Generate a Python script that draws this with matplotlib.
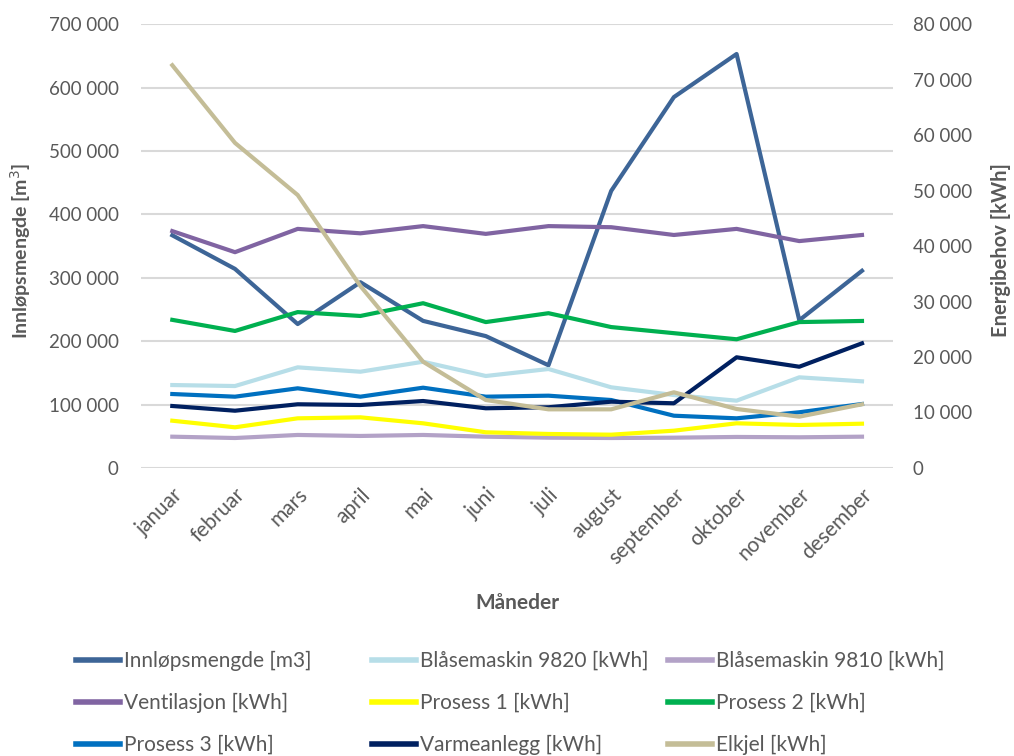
import matplotlib.pyplot as plt
from matplotlib.ticker import FuncFormatter, MultipleLocator

plt.rcParams['font.family'] = ['Lato', 'DejaVu Sans']

months = ['januar', 'februar', 'mars', 'april', 'mai', 'juni', 'juli',
          'august', 'september', 'oktober', 'november', 'desember']

# left axis [m3]
innlop = [367000, 314000, 227000, 293000, 232000, 208000, 162000,
          437000, 585000, 653000, 233000, 311000]

# right axis [kWh]
blase9820 = [14950, 14770, 18140, 17350, 19150, 16580, 17840,
             14540, 13150, 12130, 16340, 15620]
blase9810 = [5640, 5400, 5950, 5770, 5950, 5640, 5460,
             5400, 5460, 5590, 5530, 5640]
ventilasjon = [42700, 38900, 43100, 42300, 43600, 42200, 43600,
               43400, 42000, 43100, 40900, 42000]
prosess1 = [8520, 7330, 8950, 9130, 8050, 6430, 6130,
            6000, 6720, 8050, 7750, 7980]
prosess2 = [26700, 24700, 28100, 27400, 29700, 26300, 27900,
            25400, 24300, 23200, 26300, 26500]
prosess3 = [13330, 12850, 14360, 12850, 14470, 12850, 13030,
            12250, 9420, 8950, 10040, 11530]
varme = [11170, 10320, 11480, 11350, 12070, 10760, 10940,
         11950, 11660, 19950, 18250, 22470]
elkjel = [72600, 58600, 49200, 32800, 19150, 12250, 10570,
          10570, 13640, 10630, 9250, 11480]

grey = '#595959'
x = list(range(len(months)))

fig = plt.figure(figsize=(10.14, 7.56), dpi=100)
ax = fig.add_axes([0.139, 0.381, 0.742, 0.587])
ax2 = ax.twinx()

lw = 3
series = [
    (ax, innlop, '#3D6597', 'Innløpsmengde [m3]'),
    (ax2, blase9820, '#B7DEE8', 'Blåsemaskin 9820 [kWh]'),
    (ax2, blase9810, '#B3A2C7', 'Blåsemaskin 9810 [kWh]'),
    (ax2, ventilasjon, '#8064A2', 'Ventilasjon [kWh]'),
    (ax2, prosess1, '#FFFF00', 'Prosess 1 [kWh]'),
    (ax2, prosess2, '#00B050', 'Prosess 2 [kWh]'),
    (ax2, prosess3, '#0070C0', 'Prosess 3 [kWh]'),
    (ax2, varme, '#002060', 'Varmeanlegg [kWh]'),
    (ax2, elkjel, '#C4BD97', 'Elkjel [kWh]'),
]
handles = []
for a, vals, col, lab in series:
    h, = a.plot(x, vals, color=col, lw=lw, label=lab)
    handles.append(h)

fmt = FuncFormatter(lambda v, p: f'{int(v):,}'.replace(',', ' '))

ax.set_xlim(-0.5, 11.5)
ax.set_ylim(0, 700000)
ax.yaxis.set_major_locator(MultipleLocator(100000))
ax.yaxis.set_major_formatter(fmt)
ax2.set_ylim(0, 80000)
ax2.yaxis.set_major_locator(MultipleLocator(10000))
ax2.yaxis.set_major_formatter(fmt)

ax.grid(axis='y', color='#D9D9D9', lw=1.5)
ax.set_axisbelow(True)
for a in (ax, ax2):
    for s in a.spines.values():
        s.set_visible(False)
    a.tick_params(length=0, labelsize=13.5, labelcolor=grey)
ax.tick_params(axis='y', pad=16)
ax2.tick_params(axis='y', pad=14)

ax.set_xticks(x)
ax.set_xticklabels(months, rotation=45, ha='right', rotation_mode='anchor')
ax.tick_params(axis='x', labelsize=15, pad=12)

ax.set_xlabel('Måneder', fontsize=15, fontweight='bold', color=grey, labelpad=18)
ax.set_ylabel('Innløpsmengde [m$^3$]', fontsize=14, fontweight='bold', color=grey)
ax.yaxis.set_label_coords(-0.144, 0.49)
ax2.set_ylabel('Energibehov [kWh]', fontsize=14.5, fontweight='bold', color=grey)
ax2.yaxis.set_label_coords(1.130, 0.49)

# legend laid out row-wise in three fixed columns
col_x = [76, 372, 668]
for c in range(3):
    leg = fig.legend(handles=handles[c::3], loc='upper left',
                     bbox_to_anchor=(col_x[c] / 1014, 1 - 651 / 756),
                     frameon=False, fontsize=15, handlelength=2.1,
                     handletextpad=0.2, labelspacing=1.05,
                     borderpad=0, borderaxespad=0)
    for t in leg.get_texts():
        t.set_color(grey)
    for ln in leg.get_lines():
        ln.set_linewidth(4)

fig.savefig('out.png', dpi=100)
